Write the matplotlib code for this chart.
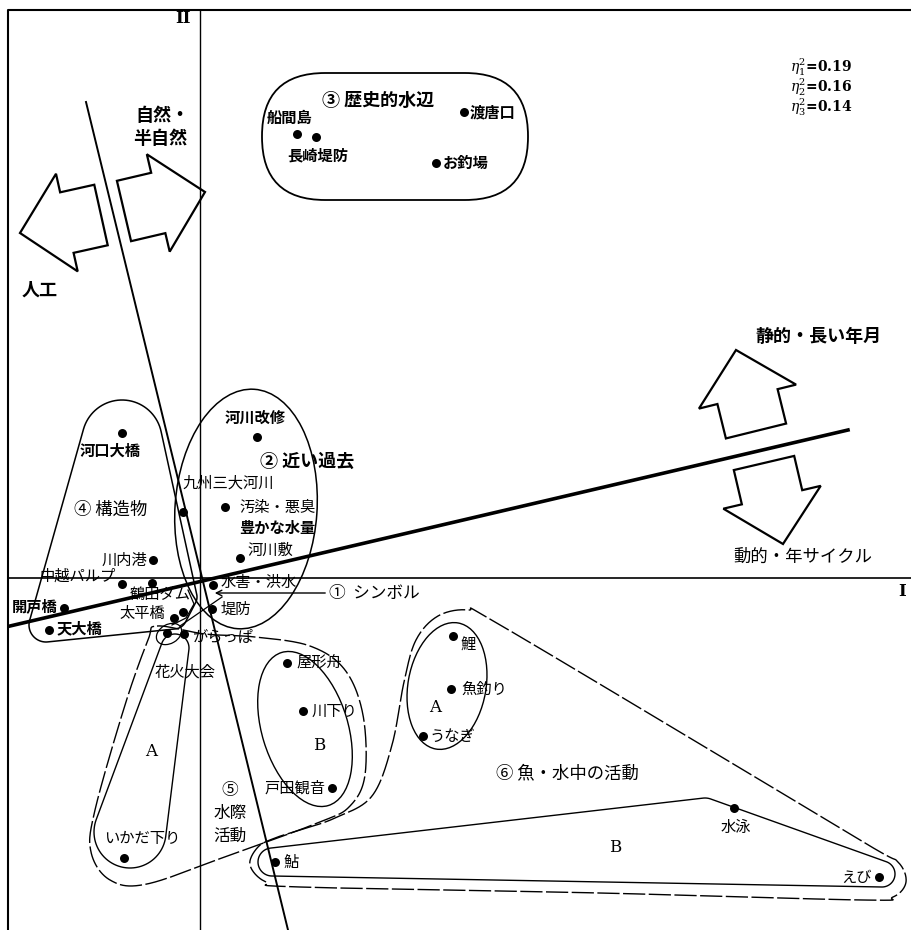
import numpy as np
import matplotlib.pyplot as plt
from matplotlib.patches import Ellipse, FancyArrow, FancyBboxPatch, Polygon

plt.rcParams['font.family'] = ['Noto Sans CJK JP', 'DejaVu Sans']
plt.rcParams['mathtext.fontset'] = 'dejavuserif'

# item scores on dimension I (x) and dimension II (y)
names = ['船間島', '長崎堤防', '渡唐口', 'お釣場',
         '河川改修', '九州三大河川', '汚染・悪臭', '河川敷', '水害・洪水', '堤防',
         '河口大橋', '川内港', '中越パルプ', '鶴田ダム', '開戸橋', '天大橋', '太平橋',
         'がらっぱ', '花火大会', '屋形舟', '川下り', '戸田観音', 'いかだ下り',
         '鯉', '魚釣り', 'うなぎ', '水泳', 'えび', '鮎']
dim1 = [0.97, 1.16, 2.64, 2.36,
        0.57, -0.17, 0.25, 0.40, 0.13, 0.12,
        -0.78, -0.47, -0.78, -0.48, -1.36, -1.51, -0.26,
        -0.16, -0.33, 0.87, 1.03, 1.32, -0.76,
        2.53, 2.51, 2.23, 5.34, 6.79, 0.75]
dim2 = [4.44, 4.41, 4.66, 4.15,
        1.41, 0.66, 0.71, 0.20, -0.07, -0.31,
        1.45, 0.18, -0.06, -0.05, -0.30, -0.52, -0.40,
        -0.56, -0.55, -0.85, -1.33, -2.10, -2.80,
        -0.58, -1.11, -1.58, -2.30, -2.99, -2.84]
# dot without its own label
extra1 = [-0.17]
extra2 = [-0.34]

eta_index = ['1', '2', '3']
eta_values = [0.19, 0.16, 0.14]

bold_names = {'船間島', '長崎堤防', '渡唐口', 'お釣場', '河川改修', '河口大橋',
              '開戸橋', '天大橋'}

# label offsets in pixels (dx, dy, ha)
label_pos = {
    '船間島': (-7, 16, 'center'), '長崎堤防': (2, -18, 'center'),
    '渡唐口': (6, 0, 'left'), 'お釣場': (7, 0, 'left'),
    '河川改修': (-2, 19, 'center'), '九州三大河川': (45, 29, 'center'),
    '汚染・悪臭': (14, 0, 'left'), '河川敷': (8, 8, 'left'),
    '水害・洪水': (8, 3, 'left'), '堤防': (9, 0, 'left'),
    '河口大橋': (-12, -18, 'center'), '川内港': (-6, 0, 'right'),
    '中越パルプ': (-6, 8, 'right'), '鶴田ダム': (8, -11, 'center'),
    '開戸橋': (-6, 2, 'right'), '天大橋': (8, 2, 'left'),
    '太平橋': (-9, 5, 'right'), 'がらっぱ': (8, -3, 'left'),
    '花火大会': (18, -39, 'center'), '屋形舟': (9, 0, 'left'),
    '川下り': (9, 0, 'left'), '戸田観音': (-6, 0, 'right'),
    'いかだ下り': (18, 20, 'center'), '鯉': (7, -9, 'left'),
    '魚釣り': (10, 0, 'left'), 'うなぎ': (6, 0, 'left'),
    '水泳': (2, -19, 'center'), 'えび': (-7, 0, 'right'), '鮎': (8, 0, 'left'),
}


def at(x, y):
    # layout pixel -> score coordinates
    return ((x - 200) / 100, (578 - y) / 100)


def hull(points):
    pts = sorted(map(tuple, points))
    def cross(o, a, b):
        return (a[0] - o[0]) * (b[1] - o[1]) - (a[1] - o[1]) * (b[0] - o[0])
    lower, upper = [], []
    for p in pts:
        while len(lower) >= 2 and cross(lower[-2], lower[-1], p) <= 0:
            lower.pop()
        lower.append(p)
    for p in reversed(pts):
        while len(upper) >= 2 and cross(upper[-2], upper[-1], p) <= 0:
            upper.pop()
        upper.append(p)
    return np.array(lower[:-1] + upper[:-1])


def circle_hull(circles):
    t = np.linspace(0, 2 * np.pi, 90, endpoint=False)
    pts = []
    for x, y, r in circles:
        cx, cy = at(x, y)
        pts += list(zip(cx + r / 100 * np.cos(t), cy + r / 100 * np.sin(t)))
    return hull(pts)


def smooth_closed(ctrl, n=24):
    p = np.array([at(x, y) for x, y in ctrl])
    k = len(p)
    t = np.linspace(0, 1, n, endpoint=False)[:, None]
    out = []
    for i in range(k):
        p0, p1, p2, p3 = p[i - 1], p[i], p[(i + 1) % k], p[(i + 2) % k]
        out.append(0.5 * (2 * p1 + (-p0 + p2) * t + (2 * p0 - 5 * p1 + 4 * p2 - p3) * t ** 2
                          + (-p0 + 3 * p1 - 3 * p2 + p3) * t ** 3))
    out = np.vstack(out)
    return np.vstack([out, out[:1]])


def block_arrow(ax, tail, tip, w=62, hw=100, hl=48):
    x, y = at(*tail)
    x2, y2 = at(*tip)
    ax.add_patch(FancyArrow(x, y, x2 - x, y2 - y, width=w / 100, head_width=hw / 100,
                            head_length=hl / 100, length_includes_head=True,
                            fill=False, ec='black', lw=1.6))


fig = plt.figure(figsize=(9.11, 9.30), dpi=100)
ax = fig.add_axes([0, 0, 1, 1])
ax.set_xlim(-2.0, 7.11)
ax.set_ylim(-3.52, 5.78)
ax.set_aspect('equal')
ax.axis('off')

# frame and axes
ax.plot([-1.92, -1.92, 7.11], [-3.52, 5.68, 5.68], color='black', lw=1.5)
ax.plot([-1.92, 7.11], [0, 0], color='black', lw=1.2)
ax.plot([0, 0], [5.68, -3.52], color='black', lw=1.0)
ax.text(*at(183, 18), 'II', family='DejaVu Serif', weight='bold', fontsize=12,
        ha='center', va='center')
ax.text(*at(902, 591), 'I', family='DejaVu Serif', weight='bold', fontsize=12,
        ha='center', va='center')

# rotated interpretation axes
l1 = np.array([at(86, 102), at(288, 930)])
ax.plot(l1[:, 0], l1[:, 1], color='black', lw=1.4)
l2 = np.array([at(10, 626), at(848, 430)])
ax.plot(l2[:, 0], l2[:, 1], color='black', lw=2.6)

block_arrow(ax, (101, 215), (20, 233))
block_arrow(ax, (124, 211), (205, 192))
block_arrow(ax, (756, 431), (736, 350))
block_arrow(ax, (764, 463), (783, 544))
ax.text(*at(162, 115), '自然・', fontsize=13, weight='bold', ha='center', va='center')
ax.text(*at(160, 138), '半自然', fontsize=13, weight='bold', ha='center', va='center')
ax.text(*at(40, 290), '人工', fontsize=13, weight='bold', ha='center', va='center')
ax.text(*at(818, 336), '静的・長い年月', fontsize=13, weight='bold', ha='center', va='center')
ax.text(*at(803, 557), '動的・年サイクル', fontsize=12.5, ha='center', va='center')

for i, (k, v) in enumerate(zip(eta_index, eta_values)):
    ax.text(*at(790, 67 + 20 * i), r'$\eta_{%s}^{2}$=%.2f' % (k, v),
            family='DejaVu Serif', weight='bold', fontsize=10, ha='left', va='center')

# group enclosures
x0, y0 = at(262, 200)
ax.add_patch(FancyBboxPatch((x0, y0), 2.66, 1.27, boxstyle='round,pad=0,rounding_size=0.63',
                            fill=False, ec='black', lw=1.3))
ax.add_patch(Ellipse(at(246, 509), 1.42, 2.40, angle=-4, fill=False, ec='black', lw=1.1))
ax.add_patch(Polygon(circle_hull([(122, 440, 40), (46, 625, 17), (174, 616, 13), (185, 597, 12)]),
                     closed=True, fill=False, ec='black', lw=1.1))
ax.add_patch(Polygon(circle_hull([(175, 648, 14), (130, 832, 36)]),
                     closed=True, fill=False, ec='black', lw=1.0))
ax.add_patch(Ellipse(at(305, 729), 0.86, 1.60, angle=17, fill=False, ec='black', lw=1.0))
ax.add_patch(Ellipse(at(447, 686), 0.78, 1.28, angle=-10, fill=False, ec='black', lw=1.0))
ax.add_patch(Polygon(circle_hull([(272, 862, 14), (705, 815, 17), (882, 874, 13)]),
                     closed=True, fill=False, ec='black', lw=1.0))

outer5 = smooth_closed([(157, 626), (205, 634), (255, 637), (310, 646), (345, 670),
                        (363, 715), (365, 775), (350, 806), (320, 822), (230, 855),
                        (147, 884), (110, 880), (91, 852), (95, 810), (125, 705), (148, 640)])
outer6 = smooth_closed([(300, 830), (335, 818), (372, 796), (392, 745), (404, 682),
                        (416, 640), (438, 616), (468, 610), (495, 622), (700, 744),
                        (870, 846), (898, 862), (906, 882), (893, 897), (862, 900),
                        (600, 893), (300, 887), (266, 882), (250, 865), (258, 847),
                        (275, 838)])
for o in (outer5, outer6):
    ax.plot(o[:, 0], o[:, 1], color='black', lw=1.0, ls=(0, (16, 2.5)))

# ① symbol pointer and small loops
ax.annotate('', xy=at(212, 593), xytext=at(328, 593),
            arrowprops=dict(arrowstyle='->', lw=1.0, color='black'))
ax.text(*at(329, 593), '①  シンボル', fontsize=12, ha='left', va='center')
s = np.array([at(222, 597), at(180, 626)])
ax.plot(s[:, 0], s[:, 1], color='black', lw=0.9)
ax.add_patch(Ellipse(at(169, 634), 0.27, 0.19, angle=30, fill=False, ec='black', lw=0.9))
hk = np.array([at(188, 590), at(194, 604), at(186, 618), at(172, 625)])
ax.plot(hk[:, 0], hk[:, 1], color='black', lw=0.9)

# group titles
ax.text(*at(378, 100), '③ 歴史的水辺', fontsize=13, weight='bold', ha='center', va='center')
ax.text(*at(307, 461), '② 近い過去', fontsize=13, weight='bold', ha='center', va='center')
ax.text(*at(111, 510), '④ 構造物', fontsize=12.5, ha='center', va='center')
ax.text(*at(230, 790), '⑤', fontsize=12, ha='center', va='center')
ax.text(*at(230, 813), '水際', fontsize=12, ha='center', va='center')
ax.text(*at(230, 836), '活動', fontsize=12, ha='center', va='center')
ax.text(*at(567, 773), '⑥ 魚・水中の活動', fontsize=12.5, ha='center', va='center')
for lab, x, y in [('A', 151, 751), ('B', 319, 745), ('A', 435, 708), ('B', 615, 847)]:
    ax.text(*at(x, y), lab, family='DejaVu Serif', fontsize=12, ha='center', va='center')

# item points
ax.scatter(dim1, dim2, s=42, color='black', zorder=5, lw=0)
ax.scatter(extra1, extra2, s=42, color='black', zorder=5, lw=0)
for n, x, y in zip(names, dim1, dim2):
    dx, dy, ha = label_pos[n]
    ax.annotate(n, (x, y), xytext=(dx, dy), textcoords='offset pixels', ha=ha, va='center',
                fontsize=11, weight='bold' if n in bold_names else 'normal')
ax.annotate('豊かな水量', (dim1[6], dim2[6]), xytext=(14, -21), textcoords='offset pixels',
            ha='left', va='center', fontsize=11, weight='bold')

fig.savefig('out.png', dpi=100, facecolor='white')
